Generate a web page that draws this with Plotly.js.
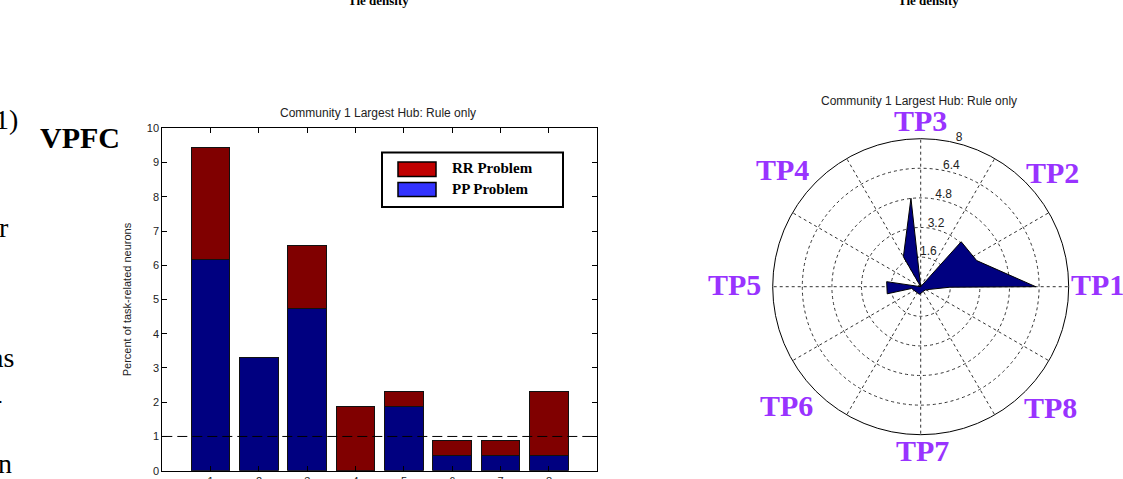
<!DOCTYPE html>
<html>
<head>
<meta charset="utf-8">
<script src="https://cdn.plot.ly/plotly-3.0.1.min.js"></script>
<style>
  html, body { margin: 0; padding: 0; background: #fff; }
  #chart { width: 1123px; height: 479px; }
</style>
</head>
<body>
<div id="chart"></div>
<script>
// Task periods (bar chart categories)
const periods = [1, 2, 3, 4, 5, 6, 7, 8];
// Percent of task-related neurons per period, stacked
const ppProblem = [6.16, 3.30, 4.73, 0.00, 1.87, 0.43, 0.43, 0.43];
const rrProblem = [3.28, 0.00, 1.84, 1.87, 0.43, 0.44, 0.44, 1.87];
const chanceLevel = 1;
const legendLabels = ['RR Problem', 'PP Problem'];

// Polar outline of the hub profile (radius in %, angle in degrees)
const polarR     = [6.22, 3.34, 3.27, 0, 4.81, 1.87, 0, 1.86, 1.85, 0.50, 0.42, 0.30, 0.52, 1.58, 6.22];
const polarTheta = [0, 25, 48, 70, 96.3, 120, 150, 171.6, 192, 191, 260, 323, 344, 359, 360];
const radialTicks = [1.6, 3.2, 4.8, 6.4, 8];
const radialLabelAngle = 75;
const periodLabels = ['TP1', 'TP2', 'TP3', 'TP4', 'TP5', 'TP6', 'TP7', 'TP8'];

const subTitle = 'Community 1 Largest Hub: Rule only';
const yTitle = 'Percent of task-related neurons';

const W = 1123, H = 479;
const px = x => x / W;
const py = y => 1 - y / H;

const SANS = 'Arial, "Liberation Sans", sans-serif';
const SERIF = '"Times New Roman", "Liberation Serif", serif';
const PURPLE = '#9933ff';

const traces = [
  {
    type: 'bar', x: periods, y: ppProblem, name: legendLabels[1],
    marker: { color: '#000080', line: { color: '#111', width: 1 } },
    xaxis: 'x', yaxis: 'y', showlegend: false, hoverinfo: 'x+y'
  },
  {
    type: 'bar', x: periods, y: rrProblem, name: legendLabels[0],
    marker: { color: '#800000', line: { color: '#111', width: 1 } },
    xaxis: 'x', yaxis: 'y', showlegend: false, hoverinfo: 'x+y'
  },
  {
    type: 'scatterpolar', r: polarR, theta: polarTheta, subplot: 'polar',
    mode: 'lines', fill: 'toself', fillcolor: '#000080',
    line: { color: '#000', width: 1 }, showlegend: false
  },
  // ring values written just above each ring, MATLAB style
  {
    type: 'scatterpolar', subplot: 'polar', mode: 'text',
    r: radialTicks, theta: radialTicks.map(() => radialLabelAngle),
    text: radialTicks.map(String), textposition: 'top center',
    textfont: { family: SANS, size: 12, color: '#222' },
    showlegend: false, hoverinfo: 'skip'
  }
];

// Label placement around the polar plot, one per task period
const tpPos = [
  [1097, 284], [1052, 172], [920, 120], [782, 169],
  [734, 284], [786, 405], [922, 450], [1050, 407]
];

// Text note placed by its pixel position on the page
function note(text, x, y, font, xanchor) {
  return {
    text: text, x: px(x), y: py(y), xref: 'paper', yref: 'paper',
    xanchor: xanchor || 'center', yanchor: 'middle', showarrow: false, font: font
  };
}

const titleFont = { family: SANS, size: 12, color: '#222' };
const legendFont = { family: SERIF, size: 15, color: '#000' };
const pageFont = { family: SERIF, size: 28, color: '#000' };

const annotations = [
  // subplot titles
  note(subTitle, 378, 113, titleFont),
  note(subTitle, 919, 101, titleFont),
  // legend entries
  note('<b>' + legendLabels[0] + '</b>', 450, 168, legendFont, 'left'),
  note('<b>' + legendLabels[1] + '</b>', 450, 189, legendFont, 'left'),
  // surrounding page text
  note('<b>VPFC</b>', 80, 138, { family: SERIF, size: 30, color: '#000' }),
  note('1)', 20, 119, pageFont, 'right'),
  note('r', 11, 227, pageFont, 'right'),
  note('as', 16, 357, pageFont, 'right'),
  note('-', 4, 398, pageFont, 'right'),
  note('n', 14, 463, pageFont, 'right'),
  note('<b>Tie density</b>', 378, 0.5, { family: SERIF, size: 13, color: '#000' }),
  note('<b>Tie density</b>', 928, 0.5, { family: SERIF, size: 13, color: '#000' })
];

periodLabels.forEach((t, i) => {
  annotations.push(note('<b>' + t + '</b>', tpPos[i][0], tpPos[i][1],
    { family: SERIF, size: 30, color: PURPLE }));
});

const shapes = [
  // chance level
  { type: 'line', xref: 'x', yref: 'y', x0: 0, x1: 9, y0: chanceLevel, y1: chanceLevel,
    line: { color: '#000', width: 1, dash: '10px,5px' } },
  // legend frame and swatches
  { type: 'rect', xref: 'paper', yref: 'paper', x0: px(382), x1: px(563), y0: py(207), y1: py(152.5),
    line: { color: '#000', width: 2 }, fillcolor: '#fff', layer: 'above' },
  { type: 'rect', xref: 'paper', yref: 'paper', x0: px(398), x1: px(436), y0: py(176.5), y1: py(162),
    line: { color: '#000', width: 1.5 }, fillcolor: '#c00000', layer: 'above' },
  { type: 'rect', xref: 'paper', yref: 'paper', x0: px(398), x1: px(436), y0: py(196.5), y1: py(182.5),
    line: { color: '#000', width: 1.5 }, fillcolor: '#3333ff', layer: 'above' }
];

const axisCommon = {
  showline: true, linecolor: '#000', linewidth: 1, mirror: 'ticks',
  ticks: 'inside', ticklen: 5, tickcolor: '#000',
  showgrid: false, zeroline: false,
  tickfont: { family: SANS, size: 11, color: '#222' }
};

const layout = {
  width: W, height: H,
  margin: { l: 0, r: 0, t: 0, b: 0 },
  paper_bgcolor: '#fff', plot_bgcolor: '#fff',
  barmode: 'stack', bargap: 0.2,
  showlegend: false,
  xaxis: Object.assign({}, axisCommon, {
    domain: [px(162.3), px(597.3)], range: [0, 9],
    tickvals: periods, anchor: 'y'
  }),
  yaxis: Object.assign({}, axisCommon, {
    domain: [py(470.7), py(128.3)], range: [0, 10], dtick: 1, anchor: 'x',
    title: { text: yTitle, standoff: 12, font: { family: SANS, size: 11, color: '#222' } }
  }),
  polar: {
    domain: { x: [px(772.7), px(1068.7)], y: [py(434.7), py(138.7)] },
    bgcolor: '#fff',
    radialaxis: {
      range: [0, 8], tickvals: radialTicks,
      angle: radialLabelAngle, showticklabels: false,
      showline: false, ticks: '',
      gridcolor: '#333', griddash: 'dot', gridwidth: 1
    },
    angularaxis: {
      rotation: 0, direction: 'counterclockwise', dtick: 30,
      showticklabels: false, ticks: '',
      gridcolor: '#333', griddash: 'dot', gridwidth: 1,
      showline: true, linecolor: '#000', linewidth: 1
    }
  },
  annotations: annotations,
  shapes: shapes
};

Plotly.newPlot('chart', traces, layout, { displayModeBar: false, staticPlot: true });
</script>
</body>
</html>
